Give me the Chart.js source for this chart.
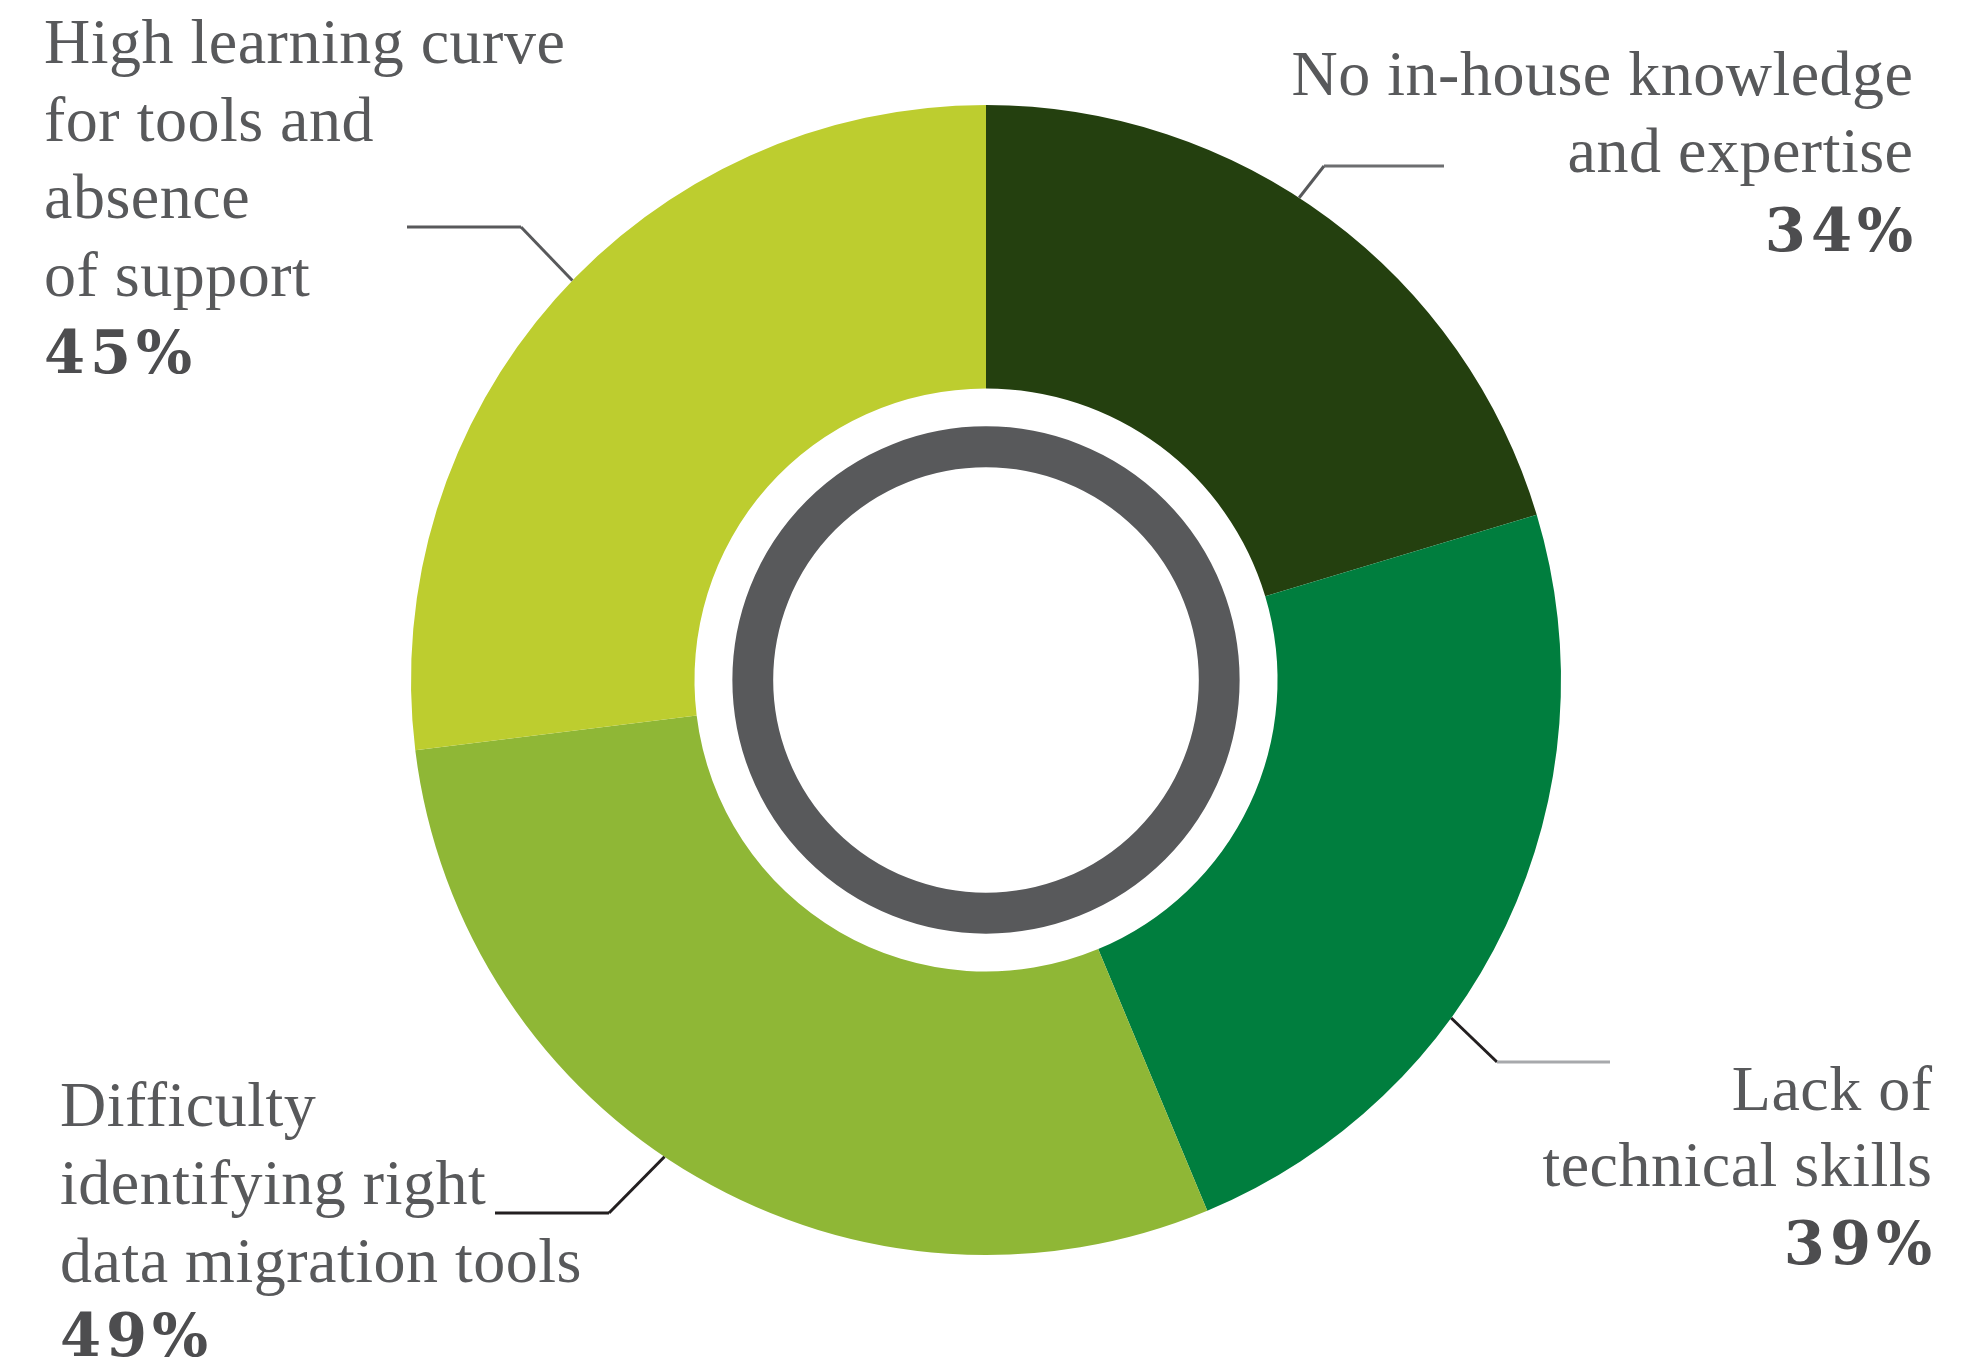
<!DOCTYPE html>
<html>
<head>
<meta charset="utf-8">
<script src="https://cdn.jsdelivr.net/npm/chart.js@4/dist/chart.umd.min.js"></script>
<style>
  html, body { margin: 0; padding: 0; background: #fff; }
  #wrap { width: 1977px; height: 1362px; position: relative; }
</style>
</head>
<body>
<div id="wrap"><canvas id="donutChart"></canvas></div>
<script>
// data
const categories = [
    "No in-house knowledge and expertise",
    "Lack of technical skills",
    "Difficulty identifying right data migration tools",
    "High learning curve for tools and absence of support"
];
const values = [34, 39, 49, 45];
const colors = ["#24400f", "#007e3e", "#8fb736", "#bdcd2f"];

// where each label sits (layout only)
const labelLines = [
    ["No in-house knowledge", "and expertise"],
    ["Lack of", "technical skills"],
    ["Difficulty", "identifying right", "data migration tools"],
    ["High learning curve", "for tools and", "absence", "of support"]
];
const labelLayout = [
    {align: "right", x: 1913, base: [95, 172], pct: 251, angle: 33,  elbow: [1324, 166], end: [1444, 166], c1: "#58595b", c2: "#6d6e70"},
    {align: "right", x: 1932, base: [1110, 1186], pct: 1264, angle: 126, elbow: [1497, 1062], end: [1610, 1062], c1: "#231f20", c2: "#a7a9ac"},
    {align: "left",  x: 60,   base: [1126, 1204, 1282], pct: 1356, angle: 214, elbow: [609, 1213], end: [495, 1213], c1: "#231f20", c2: "#231f20"},
    {align: "left",  x: 44,   base: [63, 141, 218, 296], pct: 373, angle: 314, elbow: [521, 227], end: [407, 227], c1: "#58595b", c2: "#58595b"}
];

// draws text with extra spacing, right or left aligned
function spacedText(ctx, text, x, y, align, spacing) {
    ctx.letterSpacing = spacing + "px";
    ctx.textAlign = align;
    // letterSpacing adds trailing space after last glyph, shift right-aligned text back
    ctx.fillText(text, align === "right" ? x + spacing : x, y);
    ctx.letterSpacing = "0px";
}

/* gray ring in the hole + callout labels */
const extras = {
    id: "extras",
    afterDatasetsDraw(chart) {
        const ctx = chart.ctx;
        const arc = chart.getDatasetMeta(0).data[0];
        const cx = arc.x, cy = arc.y;
        const rIn = arc.innerRadius, rOut = arc.outerRadius;

        ctx.save();
        ctx.beginPath();
        ctx.arc(cx, cy, rIn * 0.8, 0, Math.PI * 2);
        ctx.strokeStyle = "#58595b";
        ctx.lineWidth = rIn * 0.14;
        ctx.stroke();

        labelLayout.forEach((l, i) => {
            const a = l.angle * Math.PI / 180;
            const sx = cx + rOut * Math.sin(a);
            const sy = cy - rOut * Math.cos(a);
            ctx.lineWidth = 3;
            ctx.strokeStyle = l.c1;
            ctx.beginPath();
            ctx.moveTo(sx, sy);
            ctx.lineTo(l.elbow[0], l.elbow[1]);
            ctx.stroke();
            ctx.strokeStyle = l.c2;
            ctx.beginPath();
            ctx.moveTo(l.elbow[0], l.elbow[1]);
            ctx.lineTo(l.end[0], l.end[1]);
            ctx.stroke();

            ctx.textBaseline = "alphabetic";
            ctx.fillStyle = "#58595b";
            ctx.font = "64px 'Liberation Serif'";
            labelLines[i].forEach((t, j) => spacedText(ctx, t, l.x, l.base[j], l.align, 0.5));
            ctx.fillStyle = "#4d4d4f";
            ctx.font = "bold 59px 'DejaVu Serif'";
            spacedText(ctx, values[i] + "%", l.x, l.pct, l.align, 5);
        });
        ctx.restore();
    }
};

new Chart(document.getElementById("donutChart"), {
    type: "doughnut",
    data: {
        labels: categories,
        datasets: [{
            data: values,
            backgroundColor: colors,
            borderWidth: 0,
            hoverOffset: 0
        }]
    },
    options: {
        responsive: true,
        maintainAspectRatio: false,
        animation: false,
        cutout: "50.7%",
        layout: { padding: { top: 105, bottom: 107, left: 411, right: 416 } },
        plugins: {
            legend: { display: false },
            tooltip: { enabled: false }
        }
    },
    plugins: [extras]
});
</script>
</body>
</html>
